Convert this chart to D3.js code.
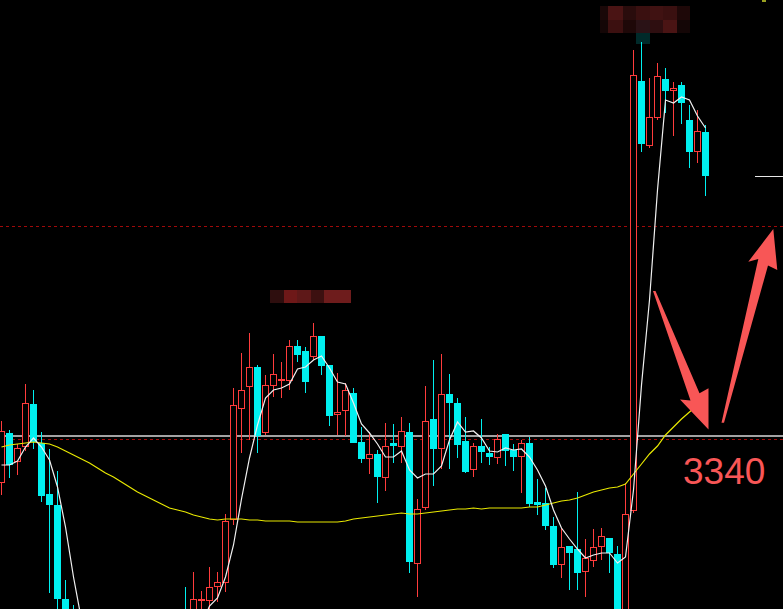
<!DOCTYPE html>
<html>
<head>
<meta charset="utf-8">
<script src="https://cdn.jsdelivr.net/npm/d3@7"></script>
<style>
html,body{margin:0;padding:0;background:#000;overflow:hidden;}
svg{display:block;}
</style>
</head>
<body>
<svg id="chart" width="783" height="609"></svg>
<script>
// ---- DATA (price units) ----
const open = [3316.5,3341.5,3327,3334.5,3356,3336.5,3311,3305.5,3258.5,3245.5,
  3218,3195,3180,3188,3170,3160,3168,3158,3172,3180,3174,3190,3205,
  3240,3240,3257.5,3257.5,3264.5,3266.5,3298,3353.5,3364.5,3374.5,3341.5,3365,3367.5,3367.5,3385,3382.5,3379.5,
  3390,3375.5,3350.5,3352.5,3361.5,3337,3328.5,3331,3319,3336.5,3334.5,3342,3276,3304,3348.5,3333.5,3361,3356.5,3337.5,3323,
  3335,3331.5,3329,3341,3333,3329.5,3336.5,3307,3306.5,3295,3275.5,3285,3283.5,3272,3277.5,3284.5,3289,3281,3252,3302.5,
  3517.5,3485,3499,3518.5,3512.5,3515.5,3498,3482,3492];
const high = [3347.5,3343,3336,3366,3363,3342,3333.5,3322.5,3268,3255.5,
  3222,3200,3194,3192,3176,3175,3172,3178,3186,3188,3196,3210,3214,
  3264.5,3272,3262.5,3274.5,3272,3301,3364,3381.5,3391.5,3375.5,3370.5,3381,3377,3388,3388,3384.5,3396.5,
  3390,3375.5,3371.5,3366.5,3364,3344.5,3342,3333,3346.5,3346,3349.5,3346.5,3308.5,3365,3378,3381,3371,3359,3349.5,3336.5,
  3348.5,3334.5,3341,3341,3336,3338,3339.5,3318.5,3314,3299.5,3294,3285,3312,3288.5,3293.5,3294,3289,3285,3316.5,3533,
  3537,3519,3526.5,3524,3517,3517,3505.5,3503,3495.5];
const low = [3310.5,3319,3320.5,3332.5,3333.5,3307,3261.5,3238,3218,3208,
  3190,3172,3175,3165,3152,3156,3150,3154,3168,3170,3171,3186,3194,
  3225,3235,3245,3248,3257,3262,3295.5,3331.5,3338,3331.5,3340.5,3359.5,3359,3363,3377,3361.5,3378,
  3370.5,3345,3340.5,3340,3336.5,3326.5,3321,3306.5,3312.5,3326.5,3326.5,3271.5,3259.5,3303,3315,3323.5,3323.5,3329,3321.5,3319.5,
  3326.5,3325.5,3326,3325,3322.5,3311.5,3304.5,3300.5,3293,3274,3269,3263,3263,3259.5,3274.5,3278,3271.5,3238,3245,3301.5,
  3482,3484,3498,3501.5,3490,3496,3474,3476.5,3460];
const close = [3342.5,3325.5,3334,3356.5,3337,3310,3305.5,3258.5,3228,3218,
  3195,3180,3188,3170,3160,3168,3158,3172,3180,3174,3190,3205,3198,
  3230,3258.5,3258.5,3264.5,3267,3297.5,3355.5,3363,3374.5,3340,3365.5,3371,3368.5,3385,3380.5,3367,3390,
  3375,3350,3352,3363,3336.5,3328.5,3331,3319.5,3335,3335,3342.5,3277,3303.5,3347.5,3333.5,3361,3356.5,3335.5,3322,3335,
  3332,3329.5,3338.5,3332.5,3329.5,3336.5,3306,3305.5,3295,3275.5,3284.5,3281.5,3271.5,3279,3284.5,3290,3281.5,3245.5,3301,3520.5,
  3486,3499.5,3520,3512.5,3514,3506.5,3482,3492.5,3470];
// short moving average (white)
const maShort = [3325.5,3325.5,3327.5,3334.5,3339,3334.5,3328,3314.5,3294.5,3269.5,
  3248,3228,3213,3205.5,3200.5,3198,3197,3198,3200.5,3205.5,3210.5,3218,3225.5,
  3233,3239.5,3245.5,3255,3259,3269.5,3285.5,3308.5,3329,3345.5,3359,3363,3364,3366,3373.5,3374.5,3378,
  3380,3374,3367,3366,3356.5,3346,3341.5,3336,3329.5,3329.5,3332.5,3323,3319,3321,3321,3325,3338,3347,3342,3342.5,
  3339,3332.5,3332,3334,3333,3333.5,3329.5,3323,3315,3303,3294,3288.5,3283.5,3279,3280.5,3281.5,3281.5,3276.5,3279.5,3313,
  3365.5,3408,3463,3508,3506.5,3509.5,3508,3500,3494];
// long moving average (yellow)
const maLong = [3334.5,3335.5,3336,3336.5,3337,3336.5,3336,3334.5,3332.5,3330.5,
  3328.5,3326.5,3324,3321.5,3319.5,3317,3314.5,3312,3310,3308,3306,3304,3303,
  3302,3300.5,3299.5,3298.5,3298,3298.5,3298.5,3298.5,3298,3298,3297.5,3297.5,3297.5,3297.5,3297,3297,3297,
  3297,3297,3297,3297.5,3298.5,3299,3299.5,3300,3300.5,3301,3301.5,3301,3301,3301.5,3302,3302.5,3303,3303.5,3303.5,3304,
  3303.5,3304,3304,3304,3304,3304,3304.5,3304.5,3305.5,3306.5,3307.5,3308,3309,3310.5,3312,3313,3314,3314.5,3316,3321,
  3326,3331,3335,3340.5,3344.5,3348.5,3352,3355.5,3359];
const whiteLevel = 3340;          // solid grey level
const dashedLevels = [3338.75, 3445];
const annotationText = "3340";

// ---- SCALES ----
const W = 783, H = 609;
const x = d3.scaleLinear().domain([0, 88]).range([-2, 702]); // left edge of candle
const y = d3.scaleLinear().domain([3253.5, 3558]).range([609, 0]);
const svg = d3.select("#chart");
svg.append("rect").attr("width", W).attr("height", H).attr("fill", "#000");

const RED = "#ff3c3c", CYAN = "#00f0f0";
const data = open.map((o, i) => ({i, o, h: high[i], l: low[i], c: close[i]}));

// censored labels (pixelated blocks)
const blocks = [
  [270,290,14,13,"#2e0e0e"],[284,290,13,13,"#6e1818"],[297,290,14,13,"#5e1818"],[311,290,13,13,"#3c1010"],[324,290,27,13,"#6e1c1c"],
  [600,6,8,14,"#1a0808"],[608,6,15,14,"#4a1414"],[623,6,13,14,"#2a0c0c"],[636,6,14,14,"#3a1010"],[650,6,13,14,"#401212"],[663,6,14,14,"#3a1010"],[677,6,13,14,"#1e0808"],
  [600,20,8,13,"#140606"],[608,20,15,13,"#3c1010"],[623,20,13,13,"#1e0808"],[636,20,14,13,"#2a1216"],[650,20,13,13,"#2e0e10"],[663,20,14,13,"#4a1414"],[677,20,13,13,"#140606"],
  [636,33,14,11,"#002a2a"],[762,0,4,2,"#9aa020"]
];
svg.append("g").selectAll("rect").data(blocks).join("rect")
  .attr("x", d => d[0]).attr("y", d => d[1]).attr("width", d => d[2]).attr("height", d => d[3]).attr("fill", d => d[4]);

// level lines
svg.append("line").attr("x1", 0).attr("x2", W).attr("y1", y(whiteLevel)).attr("y2", y(whiteLevel))
  .attr("stroke", "#d8d8d8").attr("stroke-width", 1.5);
svg.append("g").selectAll("line").data(dashedLevels).join("line")
  .attr("x1", 0).attr("x2", W).attr("y1", d => Math.round(y(d)) + 0.5).attr("y2", d => Math.round(y(d)) + 0.5)
  .attr("stroke", "#a00a0a").attr("stroke-width", 1).attr("stroke-dasharray", "3,3");

// candles
const g = svg.append("g").attr("shape-rendering", "crispEdges");
const cx = i => Math.round(x(i)) + 3.5;
g.selectAll("line.wick").data(data).join("line").attr("class", "wick")
  .attr("x1", d => cx(d.i)).attr("x2", d => cx(d.i))
  .attr("y1", d => y(d.h)).attr("y2", d => y(d.l))
  .attr("stroke", d => d.c >= d.o ? RED : CYAN).attr("stroke-width", 1);
g.selectAll("rect.body").data(data).join("rect").attr("class", "body")
  .attr("x", d => d.c >= d.o ? Math.round(x(d.i)) + 0.5 : Math.round(x(d.i)))
  .attr("width", d => d.c >= d.o ? 6 : 7)
  .attr("y", d => { const t = Math.round(y(Math.max(d.o, d.c))); return d.c >= d.o ? t + 0.5 : t; })
  .attr("height", d => { const t = Math.round(y(Math.max(d.o, d.c))), b = Math.round(y(Math.min(d.o, d.c)));
      return d.c >= d.o ? Math.max(1, b - t - 1) : Math.max(1, b - t); })
  .attr("fill", d => d.c >= d.o ? "#000" : CYAN)
  .attr("stroke", d => d.c >= d.o ? RED : "none").attr("stroke-width", 1);

// moving averages
const lineGen = arr => d3.line().x((d, i) => x(i) + 3.5).y(d => y(d))(arr);
svg.append("path").attr("d", lineGen(maLong)).attr("fill", "none").attr("stroke", "#e8e800").attr("stroke-width", 1.2);
svg.append("path").attr("d", lineGen(maShort)).attr("fill", "none").attr("stroke", "#f0f0f0").attr("stroke-width", 1.2);

// last price marker
svg.append("line").attr("x1", 755).attr("x2", W).attr("y1", Math.round(y(close[close.length - 1])) + 0.5)
  .attr("y2", Math.round(y(close[close.length - 1])) + 0.5).attr("stroke", "#e8e8e8").attr("stroke-width", 1);

// annotation arrows
const ARROW = "#f85656";
const arrows = [
  [[653,291],[690.5,400.5],[680,399.5],[708.5,429.5],[708.5,388.3],[699.5,393.3],[655.5,291]],
  [[721.5,422.7],[758.3,259],[748.3,261.7],[773.3,229],[777.3,270],[768,265.5],[724,422.7]]
];
svg.append("g").selectAll("path").data(arrows).join("path")
  .attr("d", d => "M" + d.map(p => p.join(",")).join("L") + "Z").attr("fill", ARROW);

svg.append("text").attr("x", 683).attr("y", 484).text(annotationText)
  .attr("fill", ARROW).attr("font-family", "'Liberation Sans', Arial, sans-serif").attr("font-size", 37);
</script>
</body>
</html>
